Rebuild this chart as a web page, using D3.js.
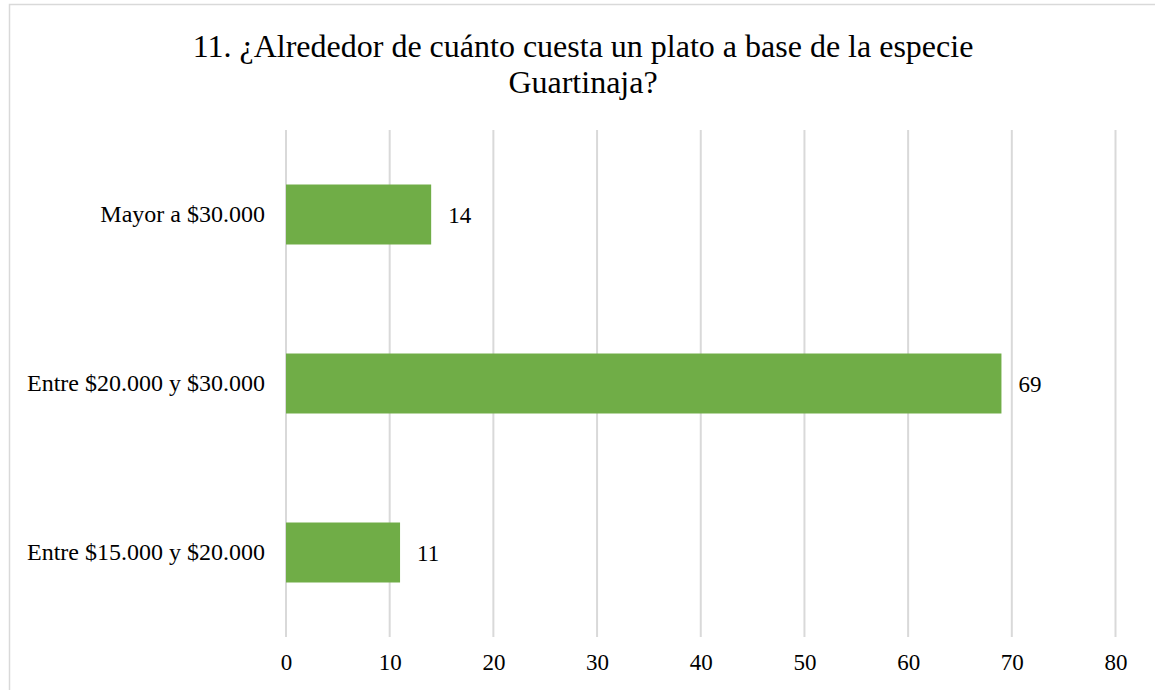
<!DOCTYPE html>
<head>
  <meta charset="utf-8">
  <script src="https://d3js.org/d3.v7.min.js"></script>
  <style>
    body { margin:0; background:#fff; }
    svg { display:block; font-family: "Liberation Serif", "Times New Roman", serif; }
  </style>
</head>
<body>
  <svg width="1155" height="690"></svg>
  <script>
    var categories = ['Entre $15.000 y $20.000', 'Entre $20.000 y $30.000', 'Mayor a $30.000'];
    var values = [11, 69, 14];
    var xTicks = [0, 10, 20, 30, 40, 50, 60, 70, 80];
    var titleLines = ['11. ¿Alrededor de cuánto cuesta un plato a base de la especie', 'Guartinaja?'];

    var width = 1155, height = 690;
    var margin = {top: 130, bottom: 53, left: 286, right: 39.5};
    var data = categories.map((c, i) => ({cat: c, val: values[i]}));

    var svg = d3.select('svg');

    // chart border
    svg.append('rect')
      .attr('x', 9.5).attr('y', 4.5)
      .attr('width', width).attr('height', height)
      .attr('fill', 'none').attr('stroke', '#d9d9d9').attr('stroke-width', 1.5);

    var xScale = d3.scaleLinear()
      .domain([0, 80])
      .range([margin.left, width - margin.right]);

    var yScale = d3.scaleBand()
      .domain(categories.slice().reverse())
      .range([margin.top, height - margin.bottom])
      .paddingInner(0.645).paddingOuter(0.3225);

    // gridlines
    svg.append('g').selectAll('line')
      .data(xTicks)
      .enter().append('line')
      .attr('x1', d => xScale(d)).attr('x2', d => xScale(d))
      .attr('y1', margin.top).attr('y2', height - margin.bottom)
      .attr('stroke', '#d9d9d9').attr('stroke-width', 2);

    // x axis labels
    var xAxis = d3.axisBottom(xScale).tickValues(xTicks).tickSize(0).tickPadding(17);
    var gx = svg.append('g')
      .attr('transform', 'translate(0,' + (height - margin.bottom) + ')')
      .call(xAxis);
    gx.select('.domain').remove();
    gx.selectAll('text').attr('font-size', 23).attr('fill', '#000')
      .attr('font-family', '"Liberation Serif", "Times New Roman", serif');

    // y axis labels
    var yAxis = d3.axisLeft(yScale).tickSize(0).tickPadding(21);
    var gy = svg.append('g')
      .attr('transform', 'translate(' + margin.left + ',0)')
      .call(yAxis);
    gy.select('.domain').remove();
    gy.selectAll('text').attr('font-size', 24).attr('fill', '#000')
      .attr('font-family', '"Liberation Serif", "Times New Roman", serif');

    // bars
    svg.append('g').selectAll('rect')
      .data(data)
      .enter().append('rect')
      .attr('x', xScale(0))
      .attr('y', d => yScale(d.cat))
      .attr('width', d => xScale(d.val) - xScale(0))
      .attr('height', yScale.bandwidth())
      .attr('fill', '#70ad47');

    // value labels
    svg.append('g').selectAll('text')
      .data(data)
      .enter().append('text')
      .attr('x', d => xScale(d.val) + 17)
      .attr('y', d => yScale(d.cat) + yScale.bandwidth() / 2)
      .attr('dy', '0.35em')
      .attr('font-size', 23)
      .text(d => d.val);

    // title
    svg.append('g').selectAll('text')
      .data(titleLines)
      .enter().append('text')
      .attr('x', 583)
      .attr('y', (d, i) => 57 + i * 36)
      .attr('text-anchor', 'middle')
      .attr('font-size', 32)
      .text(d => d);
  </script>
</body>
